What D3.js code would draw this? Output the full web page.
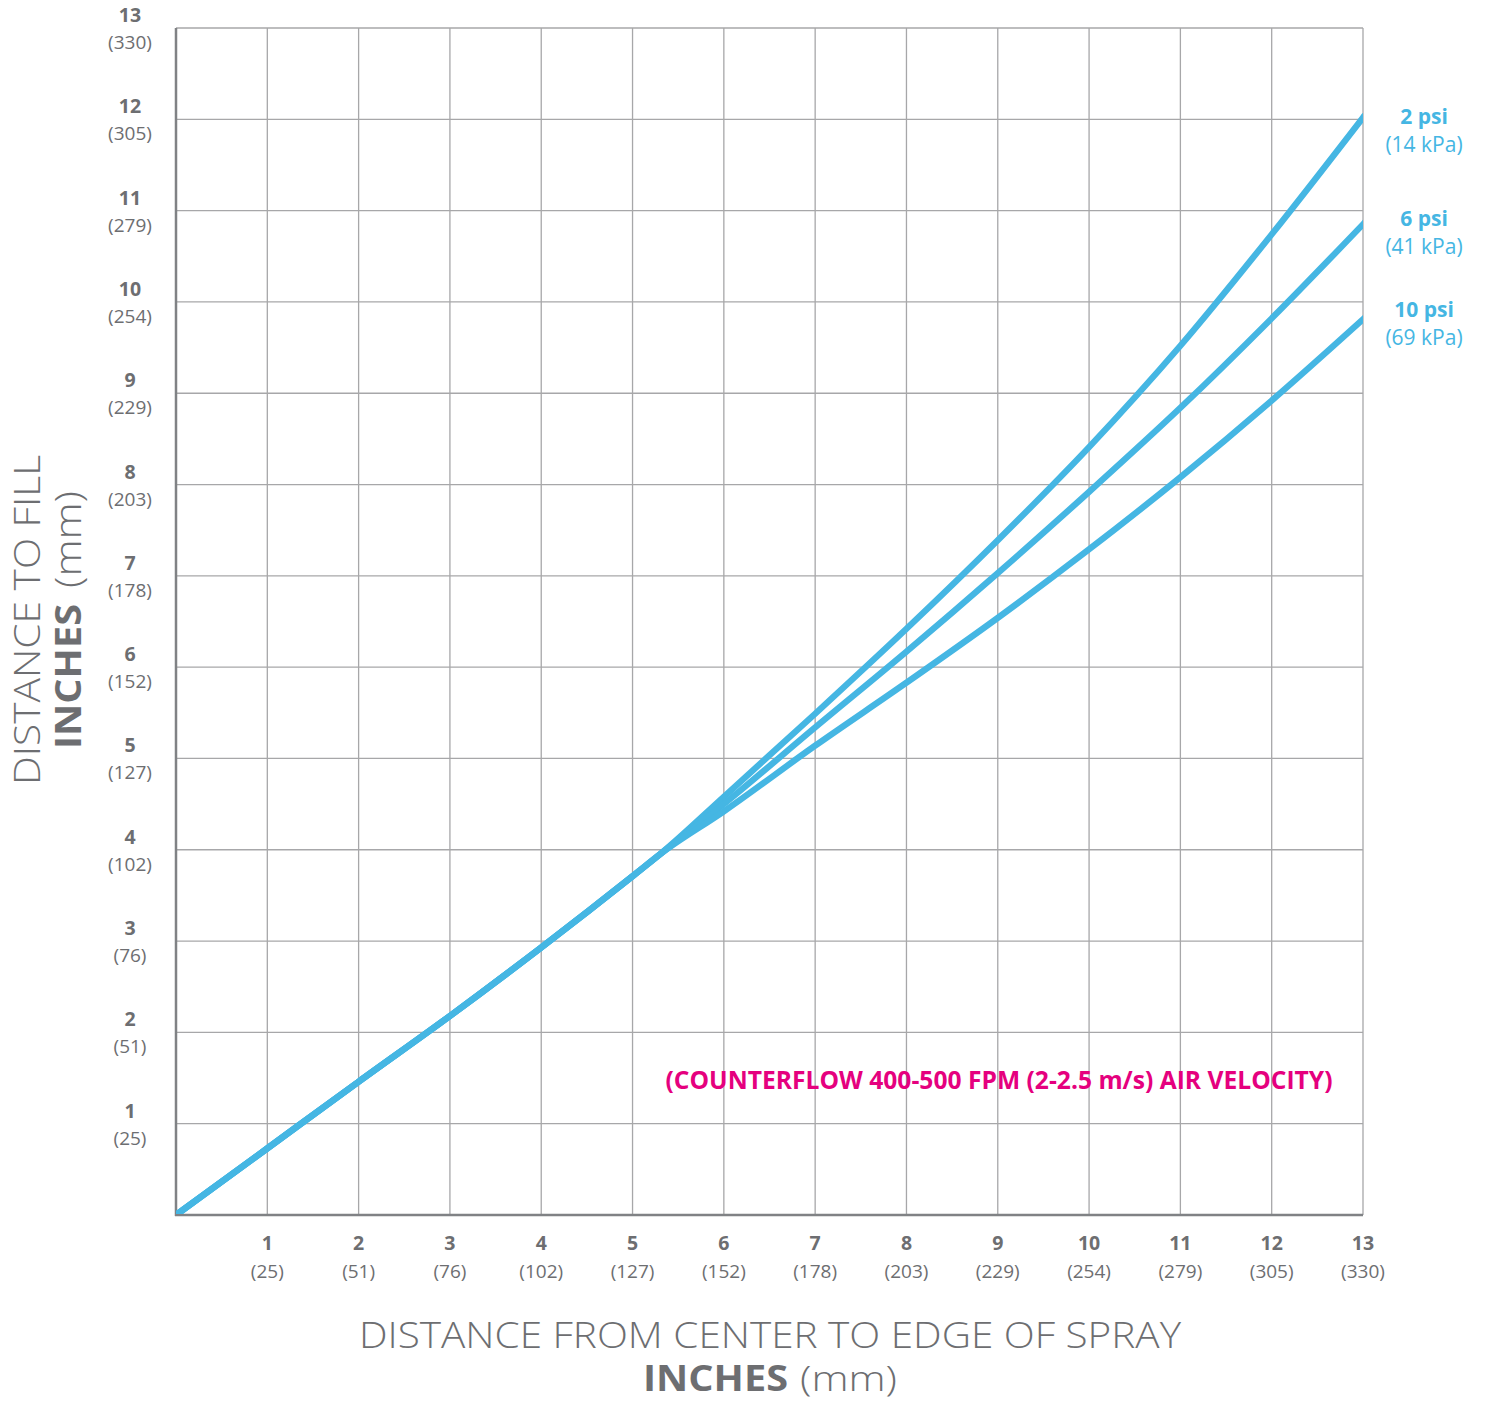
<!DOCTYPE html>
<html>
<head>
<meta charset="utf-8">
<script src="https://cdn.jsdelivr.net/npm/d3@7"></script>
<style>
  html, body { margin: 0; padding: 0; background: #fff; }
  svg { display: block; }
</style>
</head>
<body>
<svg id="chart" width="1485" height="1401"></svg>
<script>
// ---------- data ----------
const xValues = [0, 1, 2, 3, 4, 5, 5.3, 6, 7, 8, 9, 10, 11, 12, 13];
const psi2  = [0, 0.73, 1.46, 2.18, 2.93, 3.71, 3.95, 4.58, 5.49, 6.42, 7.39, 8.41, 9.52, 10.74, 12.02];
const psi6  = [0, 0.73, 1.46, 2.18, 2.93, 3.71, 3.95, 4.50, 5.34, 6.17, 7.03, 7.92, 8.84, 9.82, 10.85];
const psi10 = [0, 0.73, 1.46, 2.18, 2.93, 3.71, 3.95, 4.42, 5.14, 5.83, 6.54, 7.29, 8.08, 8.92, 9.81];
const seriesNames = ["2 psi", "6 psi", "10 psi"];
const seriesKpa = ["(14 kPa)", "(41 kPa)", "(69 kPa)"];
const tickInches = [1, 2, 3, 4, 5, 6, 7, 8, 9, 10, 11, 12, 13];
const tickMm = ["(25)", "(51)", "(76)", "(102)", "(127)", "(152)", "(178)", "(203)", "(229)", "(254)", "(279)", "(305)", "(330)"];
const xTitle = "DISTANCE FROM CENTER TO EDGE OF SPRAY";
const yTitle = "DISTANCE TO FILL";
const unitBold = "INCHES";
const unitReg = "(mm)";
const note = "(COUNTERFLOW 400-500 FPM (2-2.5 m/s) AIR VELOCITY)";

// ---------- layout ----------
const svg = d3.select("#chart");
const pLeft = 176, pRight = 1363, pTop = 28, pBottom = 1215;
const x = d3.scaleLinear().domain([0, 13]).range([pLeft, pRight]);
const y = d3.scaleLinear().domain([0, 13]).range([pBottom, pTop]);
const gray = "#6d6e71";
const blue = "#45b6e3";
const font = "'Open Sans', 'Noto Sans', sans-serif";

// grid
const grid = svg.append("g").attr("stroke", "#a7a7a9").attr("stroke-width", 1.3);
grid.selectAll("line.v").data(tickInches).enter().append("line")
  .attr("x1", d => x(d)).attr("x2", d => x(d)).attr("y1", y(13)).attr("y2", y(0));
grid.selectAll("line.h").data(tickInches).enter().append("line")
  .attr("y1", d => y(d)).attr("y2", d => y(d)).attr("x1", x(0)).attr("x2", x(13));

// axes lines
svg.append("line").attr("x1", x(0)).attr("x2", x(0)).attr("y1", y(13)).attr("y2", y(0) + 1)
  .attr("stroke", "#808285").attr("stroke-width", 2.5);
svg.append("line").attr("x1", x(0) - 1).attr("x2", x(13)).attr("y1", y(0)).attr("y2", y(0))
  .attr("stroke", "#808285").attr("stroke-width", 2.5);

// clip
svg.append("clipPath").attr("id", "plotclip").append("rect")
  .attr("x", x(0)).attr("y", y(13) - 10).attr("width", x(13) - x(0)).attr("height", y(0) - y(13) + 9);

// lines
const allSeries = [psi2, psi6, psi10];
const lineGen = d3.line().x((d, i) => x(xValues[i])).y(d => y(d)).curve(d3.curveMonotoneX);
svg.append("g").attr("clip-path", "url(#plotclip)")
  .selectAll("path").data(allSeries).enter().append("path")
  .attr("d", d => lineGen(d))
  .attr("fill", "none").attr("stroke", blue).attr("stroke-width", 6.3)
  .attr("stroke-linecap", "square").attr("stroke-linejoin", "round");

// x tick labels
const xt = svg.append("g").attr("fill", gray).attr("font-family", font).attr("text-anchor", "middle");
xt.selectAll("text.n").data(tickInches).enter().append("text")
  .attr("x", d => x(d)).attr("y", y(0) + 35).attr("font-size", 19.5).attr("font-weight", "bold")
  .text(d => d);
xt.selectAll("text.m").data(tickMm).enter().append("text")
  .attr("x", (d, i) => x(tickInches[i])).attr("y", y(0) + 63).attr("font-size", 19)
  .text(d => d);

// y tick labels
const yt = svg.append("g").attr("fill", gray).attr("font-family", font).attr("text-anchor", "middle");
yt.selectAll("text.n").data(tickInches).enter().append("text")
  .attr("x", 130).attr("y", d => y(d) - 6).attr("font-size", 19.5).attr("font-weight", "bold")
  .text(d => d);
yt.selectAll("text.m").data(tickMm).enter().append("text")
  .attr("x", 130).attr("y", (d, i) => y(tickInches[i]) + 21).attr("font-size", 19)
  .text(d => d);

// series labels on right
const lab = svg.append("g").attr("fill", blue).attr("font-family", font).attr("text-anchor", "middle");
const labelOffsets = [0, -5, -9];
seriesNames.forEach((s, i) => {
  const endV = allSeries[i][allSeries[i].length - 1];
  const yy = y(endV) + labelOffsets[i];
  lab.append("text").attr("x", 1424).attr("y", yy + 7).attr("font-size", 21).attr("font-weight", "bold").text(s);
  lab.append("text").attr("x", 1424).attr("y", yy + 35).attr("font-size", 21).text(seriesKpa[i]);
});

// note
svg.append("text").attr("x", 999).attr("y", 1089).attr("text-anchor", "middle")
  .attr("font-family", "'Liberation Sans Narrow', 'Open Sans', sans-serif")
  .attr("font-weight", "bold").attr("font-size", 25).attr("fill", "#e5007e")
  .attr("textLength", 667).attr("lengthAdjust", "spacingAndGlyphs")
  .text(note);

// x title
svg.append("text").attr("x", 770).attr("y", 1348).attr("text-anchor", "middle")
  .attr("font-family", font).attr("font-weight", 300).attr("font-size", 36).attr("fill", gray)
  .attr("textLength", 822).attr("lengthAdjust", "spacingAndGlyphs")
  .text(xTitle);
svg.append("text").attr("x", 788).attr("y", 1391).attr("text-anchor", "end")
  .attr("font-family", font).attr("font-weight", "bold").attr("font-size", 35).attr("fill", gray)
  .attr("textLength", 145).attr("lengthAdjust", "spacingAndGlyphs")
  .text(unitBold);
svg.append("text").attr("x", 800).attr("y", 1391).attr("text-anchor", "start")
  .attr("font-family", font).attr("font-weight", 300).attr("font-size", 35).attr("fill", gray)
  .attr("textLength", 97).attr("lengthAdjust", "spacingAndGlyphs")
  .text(unitReg);

// y title
const yg = svg.append("g").attr("transform", "translate(0,620) rotate(-90)");
yg.append("text").attr("x", 0).attr("y", 40).attr("text-anchor", "middle")
  .attr("font-family", font).attr("font-weight", 300).attr("font-size", 36).attr("fill", gray)
  .attr("textLength", 330).attr("lengthAdjust", "spacingAndGlyphs")
  .text(yTitle);
yg.append("text").attr("x", -129).attr("y", 81).attr("text-anchor", "start")
  .attr("font-family", font).attr("font-weight", "bold").attr("font-size", 36).attr("fill", gray)
  .attr("textLength", 145).attr("lengthAdjust", "spacingAndGlyphs")
  .text(unitBold);
yg.append("text").attr("x", 129).attr("y", 81).attr("text-anchor", "end")
  .attr("font-family", font).attr("font-weight", 300).attr("font-size", 36).attr("fill", gray)
  .attr("textLength", 97).attr("lengthAdjust", "spacingAndGlyphs")
  .text(unitReg);
</script>
</body>
</html>
